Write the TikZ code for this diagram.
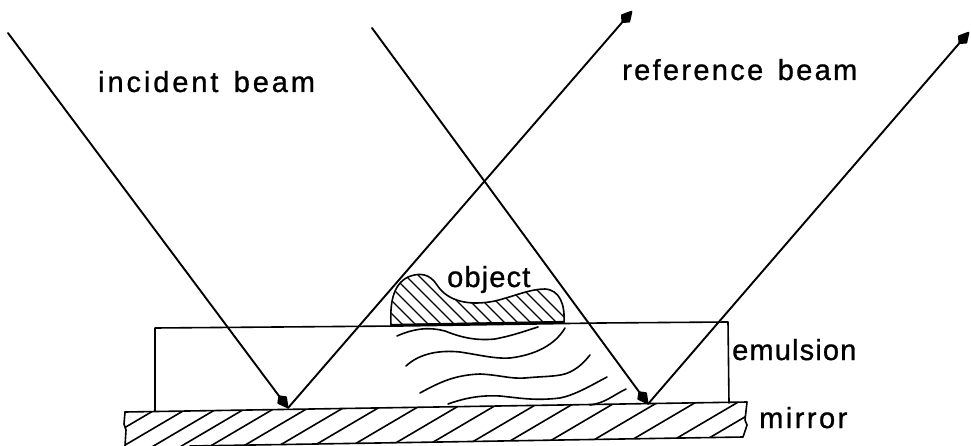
\documentclass[tikz,border=0pt]{standalone}
\usepackage{fontspec}
\setmainfont{Liberation Sans}
\newfontfamily\lblA{Liberation Sans}[LetterSpace=10,FakeBold=1,WordSpace=1.4]
\newfontfamily\lblB{Liberation Sans}[LetterSpace=8,FakeBold=1,WordSpace=1.4]
\newfontfamily\lblC{Liberation Sans}[LetterSpace=4,FakeBold=1]
\newfontfamily\lblD{Liberation Sans}[LetterSpace=8.6,FakeBold=1]
\usetikzlibrary{arrows.meta}
\tikzset{
 ink/.style={line width=1.6pt,black,line cap=round,line join=round},
 beam/.style={ink,line width=1.9pt},
 tipped/.style={beam,-{Kite[length=17pt,width=12pt,inset=6pt,round]}},
 lbl/.style={inner sep=0pt,anchor=base west,black},
}
\begin{document}
\begin{tikzpicture}[x=1pt,y=-1pt]
\useasboundingbox (0,0) rectangle (971,446);
\coordinate (a1) at (8,33);
\coordinate (r1) at (288,408);
\coordinate (a2) at (632,11);
\coordinate (b1) at (372,28);
\coordinate (r2) at (648,404);
\coordinate (b2) at (969,32);
% emulsion
\draw[ink] (155,411) -- (155,328) -- (400,326) -- (600,323) -- (728,322) -- (729,403);
% mirror
\draw[ink] (125,412) -- (747,402) -- (745,420) -- (747,425) -- (743,437) -- (440,442) -- (190,446);
\draw[ink] (125,412) -- (124,424) -- (126,430) -- (125,446);
\begin{scope}
\clip (125,412) -- (747,402) -- (745,420) -- (747,425) -- (743,437) -- (440,442) -- (190,446) -- (125,446) -- cycle;
\foreach \t in {145,170,200,230,258,287,320,355,390,428,467,503,542,578,618,660,698,740,772}
  \draw[ink] (\t,401) -- ++(-85,50);
\end{scope}
% object
\draw[ink,fill=white] (391,325) .. controls (390,305) and (392,285) .. (408,277)
  .. controls (420,272) and (430,274) .. (437,285)
  .. controls (448,302) and (470,306) .. (495,301)
  .. controls (515,296) and (530,289) .. (545,289)
  .. controls (560,290) and (565,305) .. (564,322) -- cycle;
\begin{scope}
\clip (391,325) .. controls (390,305) and (392,285) .. (408,277)
  .. controls (420,272) and (430,274) .. (437,285)
  .. controls (448,302) and (470,306) .. (495,301)
  .. controls (515,296) and (530,289) .. (545,289)
  .. controls (560,290) and (565,305) .. (564,322) -- cycle;
\foreach \t in {390,403,416,429,442,455,468,481,494,507,520,533,546,559,572}
  \draw[ink,line width=1.4pt] (\t,325) -- ++(-60,-60);
\end{scope}
\draw[ink,line width=2.2pt] (391,325) -- (564,322);
% fringes
\draw[ink] (397,336) .. controls (415,328) and (430,327) .. (445,331) .. controls (460,337) and (475,341) .. (495,339) .. controls (515,335) and (525,331) .. (538,327);
\draw[ink] (406,366) .. controls (420,353) and (440,350) .. (460,352) .. controls (480,355) and (495,359) .. (510,358) .. controls (535,355) and (555,345) .. (565,328);
\draw[ink] (420,393) .. controls (440,382) and (455,375) .. (480,374) .. controls (500,375) and (510,379) .. (525,378) .. controls (545,376) and (560,377) .. (570,372) .. controls (580,367) and (585,361) .. (590,355);
\draw[ink] (448,404) .. controls (465,398) and (480,395) .. (500,396) .. controls (520,398) and (535,401) .. (560,398) .. controls (575,395) and (590,386) .. (607,377);
\draw[ink] (590,405) .. controls (605,403) and (612,396) .. (626,389);
% beams
\draw[tipped] (a1) -- (r1);
\draw[tipped] (r1) -- (a2);
\draw[tipped] (b1) -- (r2);
\draw[tipped] (r2) -- (b2);
% labels
\node[lbl,font={\lblA\fontsize{29}{32}\selectfont}] (t1) at (98,92) {incident beam};
\node[lbl,font={\lblB\fontsize{29}{32}\selectfont}] (t2) at (622,80) {reference beam};
\node[lbl,font={\lblC\fontsize{29}{32}\selectfont}] (t3) at (447,287) {object};
\node[lbl,font={\lblC\fontsize{29}{32}\selectfont}] (t4) at (732,360) {emulsion};
\node[lbl,font={\lblD\fontsize{29}{32}\selectfont}] (t5) at (759,428) {mirror};
\end{tikzpicture}
\end{document}
